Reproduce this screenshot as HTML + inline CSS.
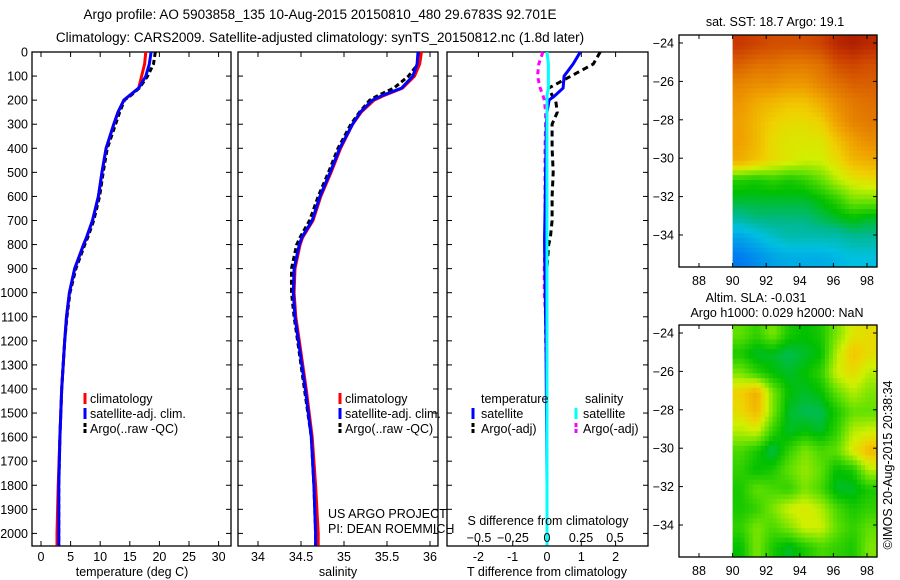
<!DOCTYPE html>
<html><head><meta charset="utf-8"><style>
body{margin:0;background:#fff;}
svg{display:block;font-family:"Liberation Sans",sans-serif;}
text{fill:#000;}
</style></head><body>
<svg id="fig" width="900" height="580" viewBox="0 0 900 580">
<text x="320" y="19" font-size="13.5" text-anchor="middle">Argo profile: AO 5903858_135 10-Aug-2015 20150810_480 29.6783S 92.701E</text>
<text x="320" y="42" font-size="13.5" text-anchor="middle">Climatology: CARS2009. Satellite-adjusted climatology: synTS_20150812.nc (1.8d later)</text>
</svg>
<script>
// ---- data ----
const depths=[0,50,100,150,180,200,250,300,400,500,600,700,770,800,900,1000,1100,1200,1400,1600,1800,2000,2050];
const tempClim=[17.7,17.5,17.0,16.5,15.0,14.0,13.0,12.3,11.0,10.3,9.7,8.7,7.7,7.2,5.7,4.8,4.3,4.0,3.5,3.2,2.9,2.7,2.7];
const tempSat=[18.6,18.3,17.7,16.5,15.0,14.0,13.0,12.3,11.0,10.3,9.7,8.7,7.7,7.2,5.7,4.8,4.3,4.0,3.5,3.2,3.0,3.0,3.0];
const tempArgo=[19.3,19.0,18.0,16.6,15.2,14.1,13.3,12.6,11.2,10.5,9.9,8.9,7.9,7.4,5.9,4.9,4.4,4.0,3.5,3.2,3.0,3.0,3.0];
const salClim=[35.9,35.88,35.82,35.68,35.47,35.35,35.2,35.1,34.96,34.85,34.73,34.64,34.52,34.49,34.43,34.42,34.44,34.48,34.56,34.63,34.67,34.7,34.7];
const salSat=[35.86,35.85,35.8,35.67,35.45,35.33,35.19,35.1,34.95,34.84,34.72,34.63,34.51,34.48,34.42,34.41,34.43,34.47,34.55,34.62,34.65,34.67,34.67];
const salArgo=[35.88,35.86,35.75,35.58,35.4,35.3,35.18,35.08,34.93,34.82,34.7,34.6,34.49,34.45,34.39,34.39,34.42,34.46,34.54,34.62,34.65,34.67,34.67];
const tdiffSat=[0.97,0.76,0.5,0.47,0.24,0.06,0.0,-0.02,-0.03,-0.04,-0.05,-0.06,-0.07,-0.07,-0.06,-0.05,-0.04,-0.03,-0.02,-0.01,0.0,0.0,0.0];
const tdiffArgo=[1.55,1.35,0.7,0.05,0.15,0.25,0.3,0.15,0.15,0.18,0.15,0.15,0.1,0.05,0.0,-0.05,0.0,0.0,0.0,0.0,0.0,0.0,0.0];
const sdiffSat=[0.0,0.01,0.01,0.01,0.0,0.0,0.0,0.0,0.0,0.0,0.0,0.0,0.0,0.0,0.0,0.0,0.0,0.0,0.0,0.0,0.0,0.0,0.0];
const sdiffArgo=[-0.03,-0.06,-0.07,-0.05,-0.03,-0.02,-0.01,-0.01,-0.015,-0.015,-0.015,-0.015,-0.015,-0.015,-0.02,-0.02,-0.01,-0.01,0.0,0.0,0.0,0.0,0.0];
const depthTicks=[0,100,200,300,400,500,600,700,800,900,1000,1100,1200,1300,1400,1500,1600,1700,1800,1900,2000];
const tempTicks=[0,5,10,15,20,25,30];
const salTicks=[34,34.5,35,35.5,36];
const tdiffTicks=[-2,-1,0,1,2];
const sdiffTicks=[-0.5,-0.25,0,0.25,0.5];
const sstGrid=[
[.92,.90,.88,.88,.88,.90,.95,.97,.95],
[.85,.82,.82,.80,.80,.82,.88,.90,.88],
[.78,.76,.76,.74,.74,.78,.82,.85,.85],
[.74,.70,.68,.66,.66,.70,.76,.80,.82],
[.72,.68,.64,.62,.62,.64,.72,.78,.80],
[.72,.68,.62,.60,.60,.60,.66,.72,.76],
[.70,.66,.62,.60,.58,.58,.62,.68,.70],
[.45,.44,.46,.44,.46,.50,.56,.60,.62],
[.40,.40,.40,.40,.40,.42,.46,.52,.52],
[.34,.36,.36,.36,.36,.38,.40,.42,.40],
[.22,.26,.30,.32,.32,.32,.32,.34,.34],
[.14,.18,.22,.24,.24,.24,.26,.28,.28]];
const slaGrid=[
[.50,.46,.52,.44,.42,.44,.52,.60,.62],
[.44,.40,.40,.38,.40,.42,.56,.66,.62],
[.52,.46,.42,.40,.42,.46,.58,.62,.56],
[.64,.70,.52,.42,.40,.42,.50,.56,.52],
[.62,.68,.52,.40,.38,.38,.44,.50,.50],
[.56,.58,.46,.40,.42,.40,.46,.56,.58],
[.48,.44,.38,.46,.52,.48,.50,.60,.68],
[.46,.42,.44,.50,.54,.50,.42,.44,.56],
[.44,.50,.48,.46,.52,.48,.40,.40,.44],
[.44,.46,.52,.58,.60,.56,.48,.44,.46],
[.46,.52,.48,.52,.58,.58,.50,.46,.50],
[.42,.52,.44,.40,.44,.48,.46,.44,.52]];
const lonTicks=[88,90,92,94,96,98];
const latTicks=[-24,-26,-28,-30,-32,-34];

// ---- drawing ----
const svg=document.getElementById('fig');
const NS='http://www.w3.org/2000/svg';
function mk(tag,attrs,parent){const e=document.createElementNS(NS,tag);for(const k in attrs)e.setAttribute(k,attrs[k]);(parent||svg).appendChild(e);return e;}
const Y0=52,Y1=546;
const yD=d=>Y0+d*0.2407;
function panel(name,x0,x1,xs,ticks,showY){
  const g=mk('g',{});
  
  
  const r=mk('rect',{x:x0,y:Y0,width:x1-x0,height:Y1-Y0,fill:'none',stroke:'#000','stroke-width':1.3},g);
  
  
  depthTicks.forEach(d=>{const y=yD(d);
    mk('line',{x1:x0,x2:x0+5,y1:y,y2:y,stroke:'#000'},g);
    mk('line',{x1:x1-5,x2:x1,y1:y,y2:y,stroke:'#000'},g);
    if(showY){const t=mk('text',{x:x0-4,y:y+4.5,'font-size':12.5,'text-anchor':'end'},g);t.textContent=d;
      
      }
  });
  ticks.forEach(v=>{const x=xs(v);
    mk('line',{x1:x,x2:x,y1:Y0,y2:Y0+5,stroke:'#000'},g);
    mk('line',{x1:x,x2:x,y1:Y1-5,y2:Y1,stroke:'#000'},g);
    const t=mk('text',{x:x,y:Y1+15,'font-size':12.5,'text-anchor':'middle'},g);t.textContent=v;
    
    
  });
  return g;
}
function line(g,xs,vals,color,dash,name,w){
  const pts=vals.map((v,i)=>xs(v).toFixed(1)+','+yD(depths[i]).toFixed(1)).join(' ');
  const p=mk('polyline',{points:pts,fill:'none',stroke:color,'stroke-width':w||3,'stroke-dasharray':dash||'none'},g);
  
  
}
function label(txt,x,y,name,anchor,size){const t=mk('text',{x:x,y:y,'font-size':size||12.5,'text-anchor':anchor||'start'});t.textContent=txt;
  
  return t;}
function legendMark(x,y,color,dash,name){const l=mk('line',{x1:x,x2:x,y1:y-10,y2:y+1,stroke:color,'stroke-width':3,'stroke-dasharray':dash||'none'});
  
  }

// panel 1
const xT=v=>41+v*5.92;
const p1=panel('temperature-panel',32,231,xT,tempTicks,true);
line(p1,xT,tempArgo,'#000','5,3','argo-temperature-line');
line(p1,xT,tempClim,'#f00','','climatology-temperature-line');
line(p1,xT,tempSat,'#00f','','satellite-temperature-line');
label('temperature (deg C)',132,576,'temperature-axis-title','middle');
legendMark(85,403,'#f00','','legend-climatology-marker');label('climatology',90,403,'legend-climatology');
legendMark(85,418,'#00f','','legend-satellite-marker');label('satellite-adj. clim.',90,418,'legend-satellite');
legendMark(85,433,'#000','4,2','legend-argo-marker');label('Argo(..raw -QC)',90,433,'legend-argo');

// panel 2
const xS=v=>258+(v-34)*86;
const p2=panel('salinity-panel',238,438,xS,salTicks,false);
line(p2,xS,salArgo,'#000','5,3','argo-salinity-line');
line(p2,xS,salClim,'#f00','','climatology-salinity-line');
line(p2,xS,salSat,'#00f','','satellite-salinity-line');
label('salinity',338,576,'salinity-axis-title','middle');
legendMark(340,403,'#f00','','legend2-climatology-marker');label('climatology',345,403,'legend2-climatology');
legendMark(340,418,'#00f','','legend2-satellite-marker');label('satellite-adj. clim.',345,418,'legend2-satellite');
legendMark(340,433,'#000','4,2','legend2-argo-marker');label('Argo(..raw -QC)',345,433,'legend2-argo');
label('US ARGO PROJECT',328,518,'project-label');
label('PI: DEAN ROEMMICH',328,533,'pi-label');

// panel 3
const xTD=v=>547+v*34.3;
const xSD=v=>547+v*136;
const p3=panel('difference-panel',447,648,xTD,tdiffTicks,false);
line(p3,xTD,tdiffArgo,'#000','6,4','argo-tdiff-line');
line(p3,xSD,sdiffArgo,'#f0f','5,4','argo-sdiff-line');
line(p3,xTD,tdiffSat,'#00f','','satellite-tdiff-line');
line(p3,xSD,sdiffSat,'#0ff','','satellite-sdiff-line');
label('T difference from climatology',547,576,'tdiff-axis-title','middle');
label('S difference from climatology',548,525,'sdiff-axis-title','middle');
sdiffTicks.forEach(v=>{label(String(v).replace('-','\u2212'),xSD(v),542,'sdiff-tick-label','middle');});
label('temperature',481,403,'legend3-temperature-header');
label('salinity',585,403,'legend3-salinity-header');
legendMark(473,418,'#00f','','legend3-tsat-marker');label('satellite',481,418,'legend3-tsat');
legendMark(473,433,'#000','4,2','legend3-targo-marker');label('Argo(-adj)',481,433,'legend3-targo');
legendMark(576,418,'#0ff','','legend3-ssat-marker');label('satellite',583,418,'legend3-ssat');
legendMark(576,433,'#f0f','4,2','legend3-sargo-marker');label('Argo(-adj)',583,433,'legend3-sargo');

// maps
const cstops=[[0,[0,48,192]],[.15,[0,128,240]],[.28,[0,192,224]],[.35,[0,184,144]],[.42,[0,192,0]],[.5,[96,224,0]],[.58,[208,240,0]],[.64,[240,208,0]],[.72,[240,160,0]],[.82,[224,112,0]],[.92,[200,56,0]],[1,[160,16,0]]];
function cmap(v){for(let i=1;i<cstops.length;i++){if(v<=cstops[i][0]){const a=cstops[i-1],b=cstops[i];const t=(v-a[0])/(b[0]-a[0]);const c=a[1].map((x,k)=>Math.round(x+(b[1][k]-x)*t));return 'rgb('+c+')';}}return 'rgb(160,16,0)';}
function sample(grid,r,c){ // bilinear sample at fractional cell coords
  const R=grid.length,C=grid[0].length;
  r=Math.max(0,Math.min(R-1,r));c=Math.max(0,Math.min(C-1,c));
  const r0=Math.floor(r),c0=Math.floor(c),r1=Math.min(R-1,r0+1),c1=Math.min(C-1,c0+1);
  const fr=r-r0,fc=c-c0;
  return grid[r0][c0]*(1-fr)*(1-fc)+grid[r0][c1]*(1-fr)*fc+grid[r1][c0]*fr*(1-fc)+grid[r1][c1]*fr*fc;
}
const xLon=v=>699+(v-88)*16.8;
function map(name,top,bot,y24,grid){
  const g=mk('g',{});
  
  
  const yLat=v=>y24+(-24-v)*19.2;
  const cx0=xLon(90),cx1=877,rows=grid.length,cols=grid[0].length;
  const S=4,nr=rows*S,nc=cols*S;
  const cw=(cx1-cx0)/nc,ch=(bot-top)/nr;
  for(let r=0;r<nr;r++)for(let c=0;c<nc;c++){
    const v=sample(grid,(r+0.5)/S-0.5,(c+0.5)/S-0.5);
    const cell=mk('rect',{x:(cx0+c*cw).toFixed(1),y:(top+r*ch).toFixed(1),width:(cw+0.6).toFixed(1),height:(ch+0.6).toFixed(1),fill:cmap(v)},g);
    
    
  }
  const fr=mk('rect',{x:679,y:top,width:198,height:bot-top,fill:'none',stroke:'#000','stroke-width':1.3},g);
  
  
  latTicks.forEach(v=>{const y=yLat(v);mk('line',{x1:679,x2:683,y1:y,y2:y,stroke:'#000'},g);mk('line',{x1:873,x2:877,y1:y,y2:y,stroke:'#000'},g);
    const t=mk('text',{x:674,y:y+4.5,'font-size':12.5,'text-anchor':'end'},g);t.textContent=String(v).replace('-','\u2212');
    
    });
  lonTicks.forEach(v=>{const x=xLon(v);mk('line',{x1:x,x2:x,y1:top,y2:top+4,stroke:'#000'},g);mk('line',{x1:x,x2:x,y1:bot-4,y2:bot,stroke:'#000'},g);
    const t=mk('text',{x:x,y:bot+18,'font-size':12.5,'text-anchor':'middle'},g);t.textContent=v;
    
    });
}
map('sst-map',35,267,43,sstGrid);
map('sla-map',325,557,333,slaGrid);
label('sat. SST: 18.7 Argo: 19.1',775,26,'sst-map-title','middle');
label('Altim. SLA: -0.031',756,302,'sla-map-title','middle');
label('Argo h1000: 0.029 h2000: NaN',777,317,'sla-map-subtitle','middle');
const ts=label('©IMOS 20-Aug-2015 20:38:34',892,465,'timestamp-label','middle');
ts.setAttribute('transform','rotate(-90 892 465)');
</script>
</body></html>
